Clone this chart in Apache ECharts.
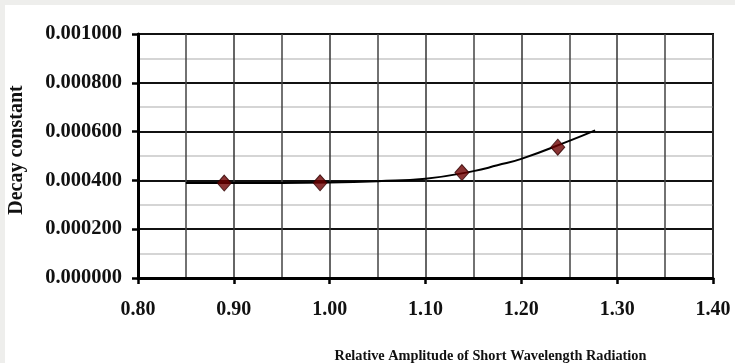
<!DOCTYPE html>
<html>
<head>
<meta charset="utf-8">
<script src="https://cdn.jsdelivr.net/npm/echarts@6/dist/echarts.min.js"></script>
<style>
html,body{margin:0;padding:0;background:#eeeeec;}
#wrap{position:absolute;left:5px;top:5px;width:730px;height:358px;background:#ffffff;}
#chart{position:absolute;left:0;top:0;width:735px;height:363px;}
</style>
</head>
<body>
<div id="wrap"></div>
<div id="chart"></div>
<script>
// Data
var pointX = [0.89, 0.99, 1.138, 1.238];
var pointY = [0.000389, 0.000390, 0.000432, 0.000536];
var trendX = [0.85, 0.90, 0.95, 1.00, 1.05, 1.10, 1.15, 1.175, 1.20, 1.25, 1.277];
var trendY = [0.000389, 0.000389, 0.000389, 0.000391, 0.000397, 0.000407, 0.000438, 0.000462, 0.000488, 0.000562, 0.000605];
var xTitle = 'Relative Amplitude of Short Wavelength Radiation';
var yTitle = 'Decay constant';

var font = 'Liberation Serif';
var chart = echarts.init(document.getElementById('chart'), null, {renderer: 'canvas'});
chart.setOption({
  backgroundColor: 'transparent',
  animation: false,
  grid: {left: 138, right: 22, top: 34, bottom: 85, outerBoundsMode: 'none', containLabel: false,
    show: true, borderColor: '#111', borderWidth: 2, backgroundColor: 'transparent'},
  xAxis: {
    type: 'value', min: 0.8, max: 1.4, interval: 0.1,
    name: xTitle, nameLocation: 'middle', nameGap: 71,
    nameTextStyle: {fontFamily: font, fontWeight: 'bold', fontSize: 14.3, color: '#111', padding: [0, 0, 0, 130]},
    axisLine: {show: true, onZero: false, lineStyle: {color: '#000', width: 3}},
    axisTick: {show: true, inside: false, length: 6, lineStyle: {color: '#000', width: 2.5}},
    axisLabel: {fontFamily: font, fontWeight: 'bold', fontSize: 20, color: '#111', margin: 22,
      formatter: function (v) { return v.toFixed(2); }},
    splitLine: {show: true, lineStyle: {color: '#333', width: 1.5}},
    minorTick: {show: false, splitNumber: 2},
    minorSplitLine: {show: true, lineStyle: {color: '#444', width: 1.5}}
  },
  yAxis: {
    type: 'value', min: 0, max: 0.001, interval: 0.0002,
    name: yTitle, nameLocation: 'middle', nameGap: 111, nameRotate: 90,
    nameTextStyle: {fontFamily: font, fontWeight: 'bold', fontSize: 20, color: '#111', padding: [0, 0, 0, 12]},
    axisLine: {show: true, lineStyle: {color: '#000', width: 3}},
    axisTick: {show: true, inside: false, length: 6, lineStyle: {color: '#000', width: 2.5}},
    axisLabel: {fontFamily: font, fontWeight: 'bold', fontSize: 20.5, color: '#111', margin: 16,
      formatter: function (v) { return v.toFixed(6); }},
    splitLine: {show: true, lineStyle: {color: '#111', width: 2}},
    minorTick: {show: false, splitNumber: 2},
    minorSplitLine: {show: true, lineStyle: {color: '#c8c8c8', width: 1.5}}
  },
  series: [
    {
      type: 'line', smooth: true, showSymbol: false, symbol: 'none',
      data: trendX.map(function (x, i) { return [x, trendY[i]]; }),
      lineStyle: {color: '#000', width: 2}, z: 3
    },
    {
      type: 'scatter', symbol: 'diamond', symbolSize: [14, 16],
      data: pointX.map(function (x, i) { return [x, pointY[i]]; }),
      itemStyle: {color: '#6e0000', borderColor: '#300000', borderWidth: 1}, z: 4
    }
  ]
});
</script>
</body>
</html>
